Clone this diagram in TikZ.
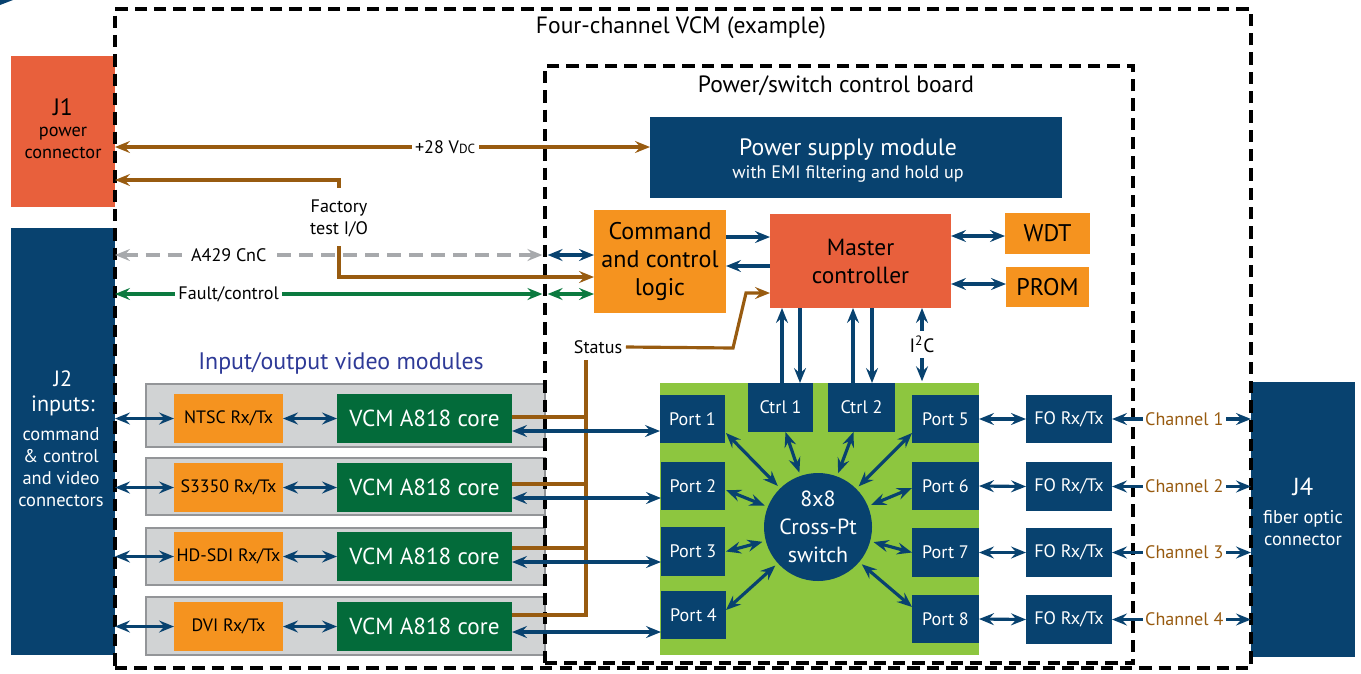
\documentclass[tikz,border=0pt]{standalone}
\usepackage{fontspec}
\setmainfont{PT Sans}
\usetikzlibrary{arrows.meta,calc}
\definecolor{dblue}{HTML}{08426F}
\definecolor{orng}{HTML}{F5931F}
\definecolor{redo}{HTML}{E8603C}
\definecolor{cgreen}{HTML}{036B3A}
\definecolor{lime}{HTML}{8DC63F}
\definecolor{brwn}{HTML}{985B10}
\definecolor{fgreen}{HTML}{0B7A3F}
\definecolor{lgray}{HTML}{A7A9AC}
\definecolor{vblue}{HTML}{2E3A97}
\definecolor{boxgray}{HTML}{D1D3D4}
\definecolor{edgegray}{HTML}{939598}
\newcommand{\fsz}[2]{\fontsize{#1}{#2}\selectfont}
\newcommand{\bx}[7]{\node[#6, minimum width={(#4-#2)*0.02cm}, minimum height={(#5-#3)*0.02cm}] (#1) at ({(#2+#4)/2},{(#3+#5)/2}) {#7};}
\tikzset{
 box/.style={inner sep=0pt, outer sep=0pt, align=center, draw=none},
 bluebox/.style={box, fill=dblue, text=white},
 orbox/.style={box, fill=orng, text=black},
 redbox/.style={box, fill=redo, text=black},
 corebox/.style={box, fill=cgreen, text=white, font=\fsz{13.2}{15}},
 rxbox/.style={box, fill=orng, text=black, font=\fsz{10.2}{12}},
 modbox/.style={box, fill=boxgray, draw=edgegray, line width=1.1pt},
 dashbox/.style={box, draw=black, line width=1.8pt, dash pattern=on 7pt off 4pt},
 portbox/.style={bluebox, font=\fsz{10.3}{12}},
 bar/.style={dblue, line width=1.8pt},
 pw/.style={brwn, line width=1.8pt},
 gline/.style={lgray, line width=1.8pt, dash pattern=on 8pt off 4.5pt},
 fline/.style={fgreen, line width=1.8pt},
 lab/.style={inner sep=2pt, font=\fsz{10.3}{12.5}, align=center, fill=white, text=black},
 intext/.style={inner sep=0pt, align=center},
}
\begin{document}
\begin{tikzpicture}[x=0.02cm,y=-0.02cm,>={Stealth[length=8.5pt,width=6.8pt,inset=3pt]}]
\useasboundingbox (0,0) rectangle (1361,673);
\fill[dblue] (0,0) -- (13,0) -- (0,5) -- cycle;
% connectors boxes
\bx{j1}{11}{56}{115}{207}{redbox}{}
\bx{j2}{11}{228}{115}{655}{bluebox}{}
\bx{j4}{1251}{382}{1355}{657}{bluebox}{}
\node[intext, font=\fsz{13.5}{15}] (j1a) at (63,107) {J1};
\node[intext, font=\fsz{10.4}{12.5}] (j1b) at (63,143) {power\\connector};
\node[intext, text=white, font=\fsz{12.6}{14.2}] (j2a) at (63,393) {J2\\inputs:};
\node[intext, text=white, font=\fsz{10.5}{12.5}] (j2b) at (61,467) {command\\\& control\\and video\\connectors};
\node[intext, text=white, font=\fsz{14}{16}] (j4a) at (1303,487) {J4};
\node[intext, text=white, font=\fsz{10.5}{13}] (j4b) at (1303,528) {fiber optic\\connector};
% video module frames
\bx{v1}{146}{384}{545}{447}{modbox}{}
\bx{v2}{146}{458}{545}{515}{modbox}{}
\bx{v3}{146}{528}{545}{585}{modbox}{}
\bx{v4}{146}{597}{545}{655}{modbox}{}
% dashed boundaries
\bx{vcm}{115}{9}{1251}{668}{dashbox}{}
\bx{board}{545}{66}{1133}{663}{dashbox}{}
\node[intext, font=\fsz{13.4}{15}] (vcmt) at (681,28) {Four-channel VCM (example)};
\node[intext, font=\fsz{13.4}{15}] (boardt) at (836,86) {Power/switch control board};
% board blocks
\bx{psu}{650}{117}{1062}{198}{bluebox}{}
\node[intext, text=white, font=\fsz{13.5}{16}] (psua) at (848,150) {Power supply module};
\node[intext, text=white, font=\fsz{10.3}{12}] (psub) at (848,174) {with EMI filtering and hold up};
\bx{ccl}{594}{210}{726}{313}{orbox,font=\fsz{13.7}{15.9}}{Command\\and control\\logic}
\bx{mc}{770}{214}{951}{308}{redbox,font=\fsz{13.3}{15.9}}{Master\\controller}
\bx{wdt}{1005}{213}{1090}{254}{orbox,font=\fsz{13.7}{15}}{WDT}
\bx{prom}{1006}{267}{1089}{307}{orbox,font=\fsz{13.7}{15}}{PROM}
% video modules
\node[intext, text=vblue, font=\fsz{13.6}{15}] (vmt) at (341,363) {Input/output video modules};
\bx{r1}{174}{394}{283}{443}{rxbox}{NTSC Rx/Tx}
\bx{r2}{174}{463}{283}{512}{rxbox}{S3350 Rx/Tx}
\bx{r3}{174}{532}{283}{581}{rxbox}{HD-SDI Rx/Tx}
\bx{r4}{174}{602}{283}{651}{rxbox}{DVI Rx/Tx}
\bx{c1}{337}{394}{512}{443}{corebox}{VCM A818 core}
\bx{c2}{337}{463}{512}{512}{corebox}{VCM A818 core}
\bx{c3}{337}{532}{512}{581}{corebox}{VCM A818 core}
\bx{c4}{337}{602}{512}{651}{corebox}{VCM A818 core}
% switch board
\bx{sw}{660}{383}{979}{655}{box,fill=lime}{}
\bx{p1}{660}{395}{725}{443}{portbox}{Port 1}
\bx{p2}{661}{462}{725}{510}{portbox}{Port 2}
\bx{p3}{661}{527}{725}{576}{portbox}{Port 3}
\bx{p4}{661}{591}{726}{639}{portbox}{Port 4}
\bx{p5}{912}{395}{979}{443}{portbox}{Port 5}
\bx{p6}{912}{462}{979}{510}{portbox}{Port 6}
\bx{p7}{912}{528}{979}{577}{portbox}{Port 7}
\bx{p8}{912}{595}{979}{643}{portbox}{Port 8}
\bx{ct1}{748}{383}{813}{432}{portbox}{Ctrl 1}
\bx{ct2}{828}{383}{895}{432}{portbox}{Ctrl 2}
\node[circle, fill=dblue, text=white, inner sep=0pt, outer sep=2pt, minimum size={108*0.02cm}, align=center, font=\fsz{12.5}{15.9}] (xs) at (818,527) {8x8\\Cross-Pt\\switch};
\bx{f1}{1026}{395}{1112}{443}{portbox}{FO Rx/Tx}
\bx{f2}{1026}{462}{1112}{511}{portbox}{FO Rx/Tx}
\bx{f3}{1026}{528}{1112}{577}{portbox}{FO Rx/Tx}
\bx{f4}{1026}{595}{1112}{644}{portbox}{FO Rx/Tx}
% power and test lines
\draw[pw,<->] (j1.east |- 0,147) -- (psu.west |- 0,147) node[lab, pos=0.617] (v28) {+28 V{\fsz{7.5}{8}DC}};
\node[lab, fill=none] (ft) at (339,218) {Factory\\test I/O};
\draw[pw,->] (ft.north) ++(0,-8) |- (j1.east |- 0,180);
\draw[pw,->] (ft.south) ++(0,6) |- (ccl.west |- 0,277);
% A429 and fault lines
\draw[gline,<->] (j2.east |- 0,255) -- ([xshift=-1.5pt]board.west |- 0,255) node[lab, pos=0.266] (a429) {A429 CnC};
\draw[bar,<->] ([xshift=1.5pt]board.west |- 0,255) -- (ccl.west |- 0,255);
\draw[fline,<->] (j2.east |- 0,294) -- ([xshift=-1.5pt]board.west |- 0,294) node[lab, pos=0.266] (fc) {Fault/control};
\draw[fline,<->] ([xshift=1.5pt]board.west |- 0,294) -- (ccl.west |- 0,294);
% command / master
\draw[bar,->] (ccl.east |- 0,237) -- (mc.west |- 0,237);
\draw[bar,->] (mc.west |- 0,266) -- (ccl.east |- 0,266);
\draw[bar,<->] (mc.east |- 0,236) -- (wdt.west |- 0,236);
\draw[bar,<->] (mc.east |- 0,284) -- (prom.west |- 0,284);
% status
\node[lab, fill=none] (st) at (598,347) {Status};
\draw[pw,->] (st.east) -- (733,348) -- (746,293) -- (mc.west |- 0,293);
\coordinate (sb) at (586,360);
\draw[pw] (c1.east |- 0,417) -- (sb |- 0,417);
\draw[pw] (c2.east |- 0,484) -- (sb |- 0,484);
\draw[pw] (c3.east |- 0,548) -- (sb |- 0,548);
\draw[pw] (sb) |- (c4.east |- 0,615);
% master <-> ctrl
\draw[bar,->] (ct1.north -| 782,0) -- (mc.south -| 782,0);
\draw[bar,->] (mc.south -| 800,0) -- (ct1.north -| 800,0);
\draw[bar,->] (ct2.north -| 853,0) -- (mc.south -| 853,0);
\draw[bar,->] (mc.south -| 872,0) -- (ct2.north -| 872,0);
\draw[bar,<->] (mc.south -| 922,0) -- ([yshift=1pt]sw.north -| 922,0) node[lab, midway, inner sep=3pt, font=\fsz{11}{12}] (i2c) {I\textsuperscript{2}C};
% video chain
\foreach \i in {1,...,4}{
  \draw[bar,<->] (j2.east |- r\i.west) -- (r\i.west);
  \draw[bar,<->] (r\i.east) -- (c\i.west);
}
\draw[bar,<->] (c1.east |- 0,431) -- (p1.west |- 0,431);
\draw[bar,<->] (c2.east |- 0,498) -- (p2.west |- 0,498);
\draw[bar,<->] (c3.east |- 0,562) -- (p3.west |- 0,562);
\draw[bar,<->] (c4.east |- 0,632) -- (p4.west |- 0,632);
% switch fan
\draw[bar,<->] ($(p1.south east)+(1,-10)$) -- (xs);
\draw[bar,<->] ($(p2.east)+(1,4)$) -- (xs);
\draw[bar,<->] ($(p3.east)+(1,0)$) -- (xs);
\draw[bar,<->] ($(p4.north east)+(0,19)$) -- (xs);
\draw[bar,<->] ($(ct1.south)+(5,0)$) -- (xs);
\draw[bar,<->] ($(ct2.south)+(-8,0)$) -- (xs);
\draw[bar,<->] ($(p5.south west)+(0,-10)$) -- (xs);
\draw[bar,<->] ($(p6.west)+(0,2)$) -- (xs);
\draw[bar,<->] (p7.west) -- (xs);
\draw[bar,<->] ($(p8.north west)+(0,12)$) -- (xs);
% fiber outputs
\draw[bar,<->] (p5.east) -- (f1.west);
\draw[bar,<->] (p6.east) -- (f2.west);
\draw[bar,<->] (p7.east) -- (f3.west);
\draw[bar,<->] (p8.east) -- (f4.west);
\foreach \i in {1,...,4}{
  \draw[bar,<->] (f\i.east) -- (j4.west |- f\i.east) node[lab, pos=0.52, text=brwn, inner sep=1.5pt] (ch\i) {Channel \i};
}
\end{tikzpicture}
\end{document}
